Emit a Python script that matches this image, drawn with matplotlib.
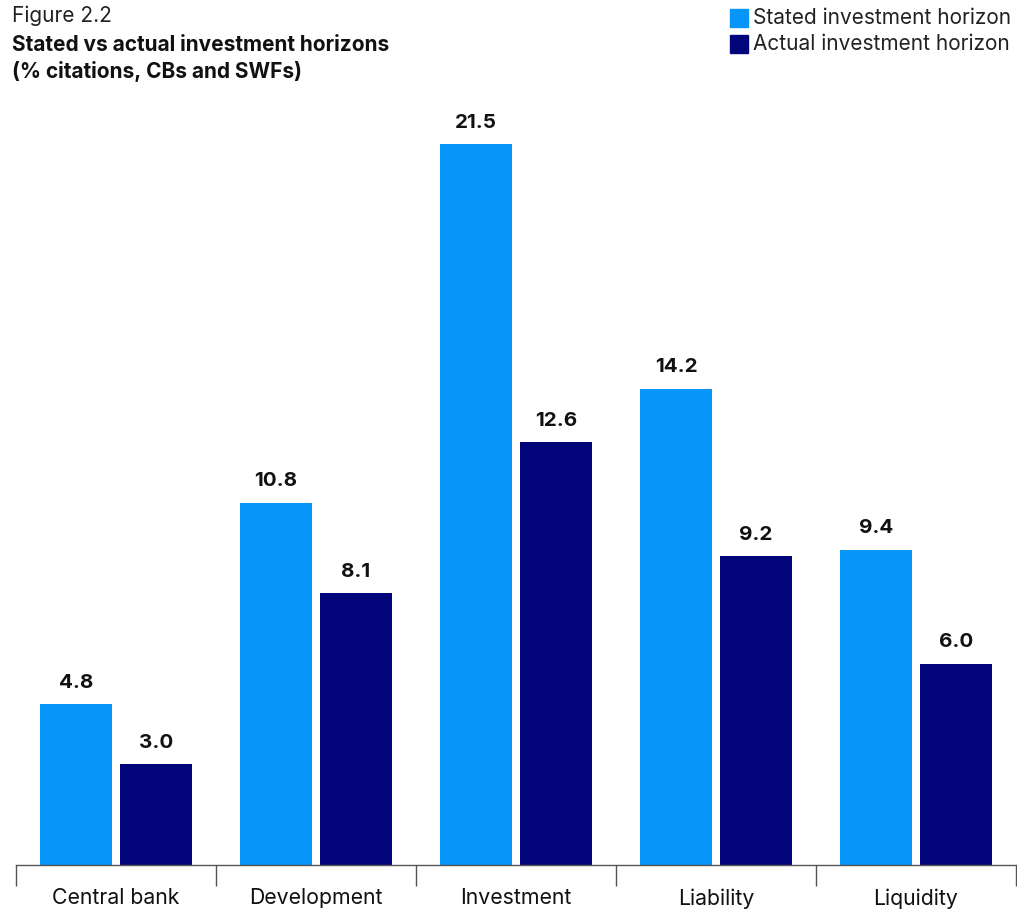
import matplotlib
matplotlib.use("Agg")
import matplotlib.pyplot as plt
from matplotlib.patches import Rectangle
import numpy as np

categories = ["Central bank", "Development", "Investment", "Liability", "Liquidity"]
stated = [4.8, 10.8, 21.5, 14.2, 9.4]
actual = [3.0, 8.1, 12.6, 9.2, 6.0]
series_names = ["Stated investment horizon", "Actual investment horizon"]

C_STATED = "#0796F7"
C_ACTUAL = "#02047A"
FONT = ["Inter", "DejaVu Sans"]
plt.rcParams["font.family"] = FONT

W, H = 1017, 911
fig = plt.figure(figsize=(W / 100, H / 100), dpi=100)
ax = fig.add_axes([16 / W, (H - 865) / H, 1000 / W, 755 / H])

x = np.arange(len(categories))
bw = 0.36
off = 0.2
b1 = ax.bar(x - off, stated, bw, color=C_STATED)
b2 = ax.bar(x + off, actual, bw, color=C_ACTUAL)

for bars, vals in ((b1, stated), (b2, actual)):
    for b, v in zip(bars, vals):
        ax.annotate(f"{v:.1f}", (b.get_x() + b.get_width() / 2, v),
                    xytext=(0, 9), textcoords="offset points",
                    ha="center", va="bottom", fontsize=14.8,
                    fontweight="bold", color="#111111")

ax.set_xlim(-0.5, len(categories) - 0.5)
ax.set_ylim(0, 755 / (721 / 21.5))
ax.set_yticks([])
for s in ("top", "right", "left"):
    ax.spines[s].set_visible(False)
ax.spines["bottom"].set_color("#555555")
ax.spines["bottom"].set_linewidth(1)

# group separators below the baseline
ax.set_xticks(np.arange(len(categories) + 1) - 0.5, minor=False)
ax.set_xticklabels([])
ax.tick_params(axis="x", length=15, width=1, color="#555555", direction="out")
for xi, lab in zip(x, categories):
    ax.annotate(lab, (xi, 0), xytext=(0, -24), textcoords="offset points",
                ha="center", va="center", fontsize=15.3, color="#111111",
                annotation_clip=False)

fig.text(12 / W, 1 - 16 / H, "Figure 2.2", fontsize=15, color="#222222",
         va="center", ha="left")
fig.text(12 / W, 1 - 45 / H, "Stated vs actual investment horizons",
         fontsize=15, fontweight="bold", color="#111111", va="center", ha="left")
fig.text(12 / W, 1 - 72 / H, "(% citations, CBs and SWFs)",
         fontsize=15, fontweight="bold", color="#111111", va="center", ha="left")

for i, (name, col) in enumerate(zip(series_names, (C_STATED, C_ACTUAL))):
    yc = 18 + 26 * i
    fig.patches.append(Rectangle((730 / W, 1 - (yc + 9) / H), 18 / W, 18 / H,
                                 transform=fig.transFigure, color=col))
    fig.text(753 / W, 1 - yc / H, name, fontsize=15, color="#222222",
             va="center", ha="left")

fig.savefig("out.png", dpi=100, facecolor="white")
